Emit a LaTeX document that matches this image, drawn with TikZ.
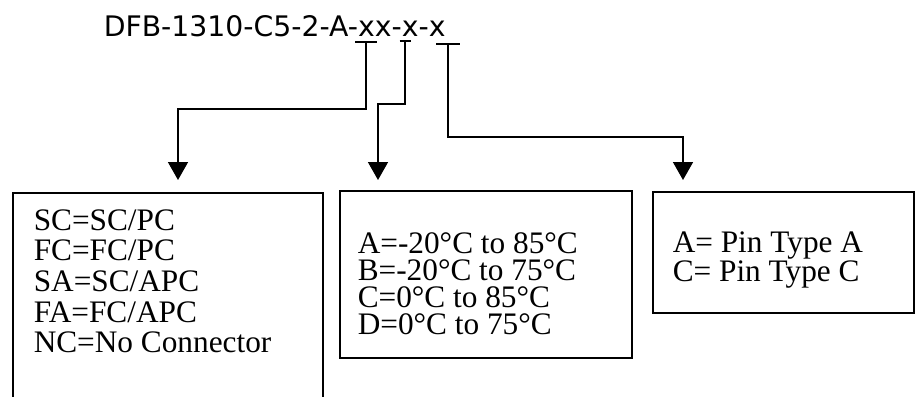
\documentclass[tikz,border=0pt]{standalone}
\usepackage{fontspec}
\setmainfont{Liberation Serif}
\newfontfamily\partfont{DejaVu Sans}
\usetikzlibrary{arrows.meta}

\begin{document}
\begin{tikzpicture}[x=1pt, y=-1pt, line width=1.5pt,
  box/.style={draw, rectangle, anchor=north west, inner sep=0pt},
  txt/.style={anchor=base west, inner sep=0pt, align=left},
  link/.style={-{Triangle[length=18pt, width=20pt]}, line width=1.6pt}]
  \clip (0,0) rectangle (915,396);
  % Nodes
  \node[anchor=base west, inner sep=0pt, font=\partfont\fontsize{28.3}{30}\selectfont] (part) at (103,37) {DFB-1310-C5-2-A-xx-x-x};
  \node[box, minimum width=310pt, minimum height=230pt] (conn) at (12,192) {};
  \node[box, minimum width=292pt, minimum height=167pt] (temp) at (339,190) {};
  \node[box, minimum width=261pt, minimum height=121pt] (pin) at (652,191) {};
  % text anchored at the baseline of its last line
  \node[txt, font=\fontsize{31.3}{30.7}\selectfont] (conntxt) at (33,352.8) {SC=SC/PC\\FC=FC/PC\\SA=SC/APC\\FA=FC/APC\\NC=No Connector};
  \node[txt, font=\fontsize{31.3}{27}\selectfont] (temptxt) at (357,334) {A=-20°C to 85°C\\B=-20°C to 75°C\\C=0°C to 85°C\\D=0°C to 75°C};
  \node[txt, font=\fontsize{31.3}{27}\selectfont] (pintxt) at (672,281) {A= Pin Type A\\C= Pin Type C};
  % Marks under the code
  \coordinate (u1) at (366,42);
  \coordinate (u2) at (405,41);
  \coordinate (u3) at (448,44);
  \coordinate (a1) at (178,180);
  \coordinate (a2) at (378,180);
  \coordinate (a3) at (683,180);
  \draw ([xshift=-11pt]u1) -- ([xshift=11pt]u1);
  \draw ([xshift=-5.5pt]u2) -- ([xshift=5.5pt]u2);
  \draw ([xshift=-12pt]u3) -- ([xshift=12pt]u3);
  % Edges
  \draw[link] (u1) -- ++(0,67) -| (a1);
  \draw[link] (u2) -- ++(0,63) -| (a2);
  \draw[link] (u3) -- ++(0,93) -| (a3);
\end{tikzpicture}
\end{document}
